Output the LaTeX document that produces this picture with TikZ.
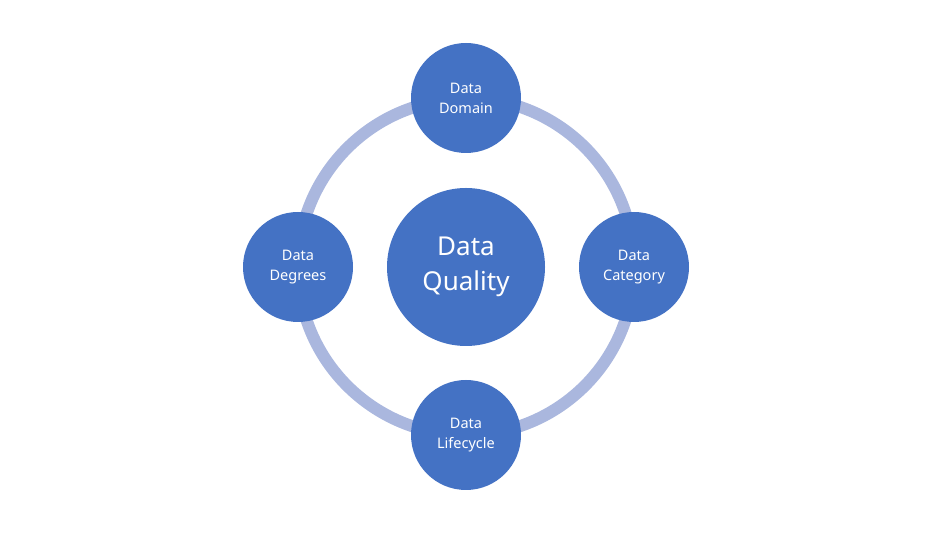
\documentclass[tikz,border=0pt]{standalone}
\usepackage{fontspec}
\setmainfont{Noto Sans}
\definecolor{nodeblue}{HTML}{4472C4}
\definecolor{ringblue}{RGB}{170,183,222}
\begin{document}
\begin{tikzpicture}[x=1pt,y=1pt,
  smallnode/.style={circle,fill=nodeblue,draw=none,minimum size=110pt,inner sep=0pt,
    text=white,align=center,font=\fontsize{14.5}{20}\selectfont},
  bignode/.style={circle,fill=nodeblue,draw=none,minimum size=158pt,inner sep=0pt,
    text=white,align=center,font=\fontsize{26}{35}\selectfont},
  ring/.style={draw=ringblue,line width=12pt}]
\useasboundingbox (0,0) rectangle (950,534);
\coordinate (c) at (466,267);
\coordinate (ptop) at (466,436);
\coordinate (pright) at (634,267);
\coordinate (pbottom) at (466,99);
\coordinate (pleft) at (298,267);
\draw[ring] (ptop) arc[start angle=90,end angle=0,radius=168];
\draw[ring] (pright) arc[start angle=0,end angle=-90,radius=168];
\draw[ring] (pbottom) arc[start angle=270,end angle=180,radius=168];
\draw[ring] (pleft) arc[start angle=180,end angle=90,radius=168];
\node[bignode] (quality) at (c) {Data\\Quality};
\node[smallnode] (domain) at (ptop) {Data\\Domain};
\node[smallnode] (category) at (pright) {Data\\Category};
\node[smallnode] (lifecycle) at (pbottom) {Data\\Lifecycle};
\node[smallnode] (degrees) at (pleft) {Data\\Degrees};
\end{tikzpicture}
\end{document}
